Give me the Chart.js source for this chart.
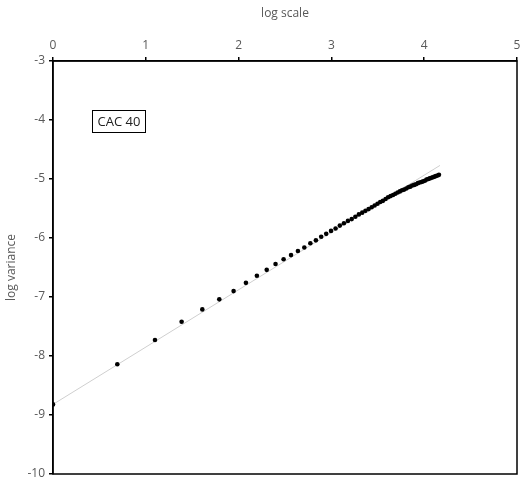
<!DOCTYPE html>
<html>
<head>
<meta charset="utf-8">
<script src="https://cdn.jsdelivr.net/npm/chart.js@4.4.1/dist/chart.umd.min.js"></script>
<style>
  html, body { margin: 0; padding: 0; background: #fff; }
  #wrap { width: 530px; height: 481px; }
</style>
</head>
<body>
<div id="wrap"><canvas id="chart"></canvas></div>
<script>
// log of horizon (ln n) and log variance
const logScale = [0, 0.693, 1.099, 1.386, 1.609, 1.792, 1.946, 2.079, 2.197, 2.303,
    2.398, 2.485, 2.565, 2.639, 2.708, 2.773, 2.833, 2.890, 2.944, 2.996,
    3.045, 3.091, 3.135, 3.178, 3.219, 3.258, 3.296, 3.332, 3.367, 3.401,
    3.434, 3.466, 3.497, 3.526, 3.555, 3.584, 3.611, 3.638, 3.664, 3.689,
    3.714, 3.738, 3.761, 3.784, 3.807, 3.829, 3.850, 3.871, 3.892, 3.912,
    3.932, 3.951, 3.970, 3.989, 4.007, 4.025, 4.043, 4.060, 4.078, 4.094,
    4.111, 4.127, 4.143, 4.159];
const logVariance = [-8.82, -8.14, -7.73, -7.42, -7.21, -7.04, -6.90, -6.76, -6.64, -6.54,
    -6.44, -6.36, -6.29, -6.22, -6.16, -6.09, -6.04, -5.98, -5.93, -5.88,
    -5.84, -5.79, -5.75, -5.71, -5.68, -5.64, -5.60, -5.57, -5.54, -5.51,
    -5.48, -5.45, -5.42, -5.39, -5.37, -5.34, -5.31, -5.29, -5.27, -5.25,
    -5.23, -5.21, -5.19, -5.18, -5.16, -5.14, -5.13, -5.11, -5.10, -5.09,
    -5.07, -5.06, -5.05, -5.04, -5.03, -5.01, -5.00, -4.99, -4.98, -4.97,
    -4.96, -4.95, -4.94, -4.93];

// linear trend line end points
const trendX = [0, 4.17];
const trendY = [-8.82, -4.77];

const xTicks = [0, 1, 2, 3, 4, 5];
const yTicks = [-3, -4, -5, -6, -7, -8, -9, -10];
const seriesLabel = 'CAC 40';

const tickColor = '#595959';
const fontFamily = "'Open Sans', 'Liberation Sans', sans-serif";

// frame around the plot area + the boxed series label
const framePlugin = {
    id: 'frame',
    afterDraw(chart) {
        const { ctx, chartArea: a, scales } = chart;
        ctx.save();
        ctx.strokeStyle = '#000';
        ctx.lineWidth = 1.5;
        ctx.strokeRect(a.left, a.top, a.right - a.left, a.bottom - a.top);

        const cx = scales.x.getPixelForValue(0.71);
        const cy = scales.y.getPixelForValue(-4.02);
        ctx.font = '13px ' + fontFamily;
        ctx.textAlign = 'center';
        ctx.textBaseline = 'middle';
        const w = ctx.measureText(seriesLabel).width + 10;
        const h = 22;
        ctx.fillStyle = '#fff';
        ctx.fillRect(cx - w / 2, cy - h / 2, w, h);
        ctx.lineWidth = 1;
        ctx.strokeRect(Math.round(cx - w / 2) + 0.5, Math.round(cy - h / 2) + 0.5, Math.round(w), h);
        ctx.fillStyle = '#222';
        ctx.fillText(seriesLabel, cx, cy + 1);
        ctx.restore();
    }
};

const points = logScale.map((x, i) => ({ x: x, y: logVariance[i] }));
const trend = trendX.map((x, i) => ({ x: x, y: trendY[i] }));

new Chart(document.getElementById('chart'), {
    type: 'scatter',
    data: {
        datasets: [{
            label: 'trend',
            data: trend,
            showLine: true,
            borderColor: '#cfcfcf',
            borderWidth: 1,
            pointRadius: 0,
            order: 2
        }, {
            label: seriesLabel,
            data: points,
            backgroundColor: '#000',
            borderColor: '#000',
            pointRadius: 2.3,
            pointBorderWidth: 0,
            order: 1
        }]
    },
    options: {
        responsive: true,
        maintainAspectRatio: false,
        animation: false,
        layout: { padding: { left: 0, right: 13, top: 0, bottom: 7 } },
        plugins: {
            legend: { display: false },
            tooltip: { enabled: false }
        },
        scales: {
            x: {
                type: 'linear',
                position: 'top',
                min: 0,
                max: 5,
                afterBuildTicks: s => { s.ticks = xTicks.map(v => ({ value: v })); },
                afterFit: s => { s.height = 61; s.paddingLeft = 0; s.paddingRight = 0; },
                grid: { drawOnChartArea: false, color: '#000', tickLength: 4, lineWidth: 1.5 },
                border: { color: '#000', width: 1.5 },
                ticks: { color: tickColor, font: { family: fontFamily, size: 12 }, padding: 4, maxRotation: 0 },
                title: { display: true, text: 'log scale', color: tickColor, font: { family: fontFamily, size: 12 }, padding: { top: 6, bottom: 6 } }
            },
            y: {
                type: 'linear',
                min: -10,
                max: -3,
                afterBuildTicks: s => { s.ticks = yTicks.map(v => ({ value: v })); },
                afterFit: s => { s.width = 53; s.paddingTop = 0; s.paddingBottom = 0; },
                grid: { drawOnChartArea: false, color: '#000', tickLength: 4, lineWidth: 1.5 },
                border: { color: '#000', width: 1.5 },
                ticks: { color: tickColor, font: { family: fontFamily, size: 12 }, padding: 4 },
                title: { display: true, text: 'log variance', color: tickColor, font: { family: fontFamily, size: 12 }, padding: { top: 4, bottom: 4 } }
            }
        }
    },
    plugins: [framePlugin]
});
</script>
</body>
</html>
